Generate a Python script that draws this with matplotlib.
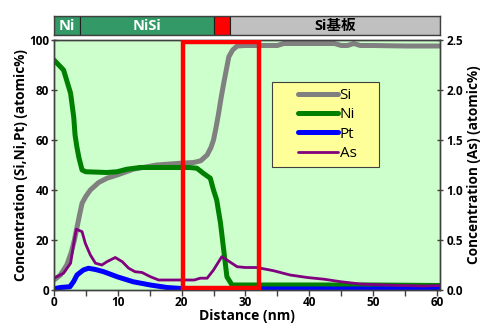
import matplotlib
matplotlib.use("Agg")
import matplotlib.pyplot as plt
from matplotlib.patches import Rectangle

plt.rcParams['font.family'] = ['Open Sans', 'Noto Sans CJK JP', 'DejaVu Sans']

# ---- data ----
si_x = [0, 1, 2, 2.7, 3.2, 3.6, 4.0, 4.4, 5.0, 5.7, 7, 8.3, 9.9, 12.4, 16.1, 19.8, 21.9, 23, 24,
        24.6, 25, 25.4, 25.8, 26.2, 26.6, 27, 27.4, 28, 28.7, 30, 35, 36, 44, 45, 46, 47, 48, 50, 55, 60.5]
si_y = [4, 6, 10, 15, 20, 25, 30, 34.7, 37.5, 40, 43, 44.7, 46, 48.3, 50, 50.7, 51, 51.7, 54,
        57, 60, 65, 70.7, 77, 82.7, 88, 93.3, 96, 97.6, 97.8, 97.8, 98.6, 98.6, 97.8, 97.8, 98.6, 97.8, 97.8, 97.6, 97.6]

ni_x = [0, 1.5, 2.6, 3.1, 3.3, 3.6, 3.9, 4.4, 5, 8.3, 9.9, 11.4, 13.5, 18.7, 21.3, 22.4, 23.4,
        24.5, 25, 25.5, 26.1, 26.6, 27.1, 27.9, 30, 40, 50, 60.5]
ni_y = [92, 88, 78.7, 69, 62, 57, 53, 48, 47.3, 47, 47.3, 48.3, 49, 49, 49, 48.7, 46.7,
        44.7, 40, 36, 26.7, 16, 5.3, 2, 2, 2, 2, 1.8]

pt_x = [0, 1, 2.5, 3.1, 3.6, 4.6, 5.4, 6.5, 7.8, 9.9, 12.4, 15.1, 17.7, 20, 25, 30, 40, 50, 60.5]
pt_y = [0.5, 1, 1.3, 3.5, 6, 8, 8.7, 8.2, 7.3, 5.3, 3.3, 2, 1, 0.6, 0.5, 0.4, 0.4, 0.4, 0.5]

as_x = [0, 1.5, 2.6, 3.1, 3.5, 4.4, 4.9, 5.7, 6.5, 7.5, 8.3, 9.6, 10.7, 11.7, 12.7, 13.8, 15.1,
        16.4, 19, 22, 22.9, 24, 25, 26.3, 27.1, 28.7, 30, 31.8, 34.4, 37, 39.7, 42.3, 44.9, 48,
        52.7, 57.9, 60.5]
as_y = [0.118, 0.168, 0.268, 0.468, 0.608, 0.583, 0.468, 0.35, 0.268, 0.25, 0.283, 0.325, 0.283,
        0.218, 0.183, 0.175, 0.133, 0.1, 0.1, 0.1, 0.118, 0.118, 0.2, 0.333, 0.3, 0.233, 0.225,
        0.225, 0.193, 0.15, 0.125, 0.108, 0.083, 0.06, 0.048, 0.04, 0.045]

layer_names = ['Ni', 'NiSi', '', 'Si基板']
layer_bounds = [0, 4.1, 25.1, 27.6, 60.5]
layer_colors = ['#339966', '#339966', '#ff0000', '#c0c0c0']
layer_text_colors = ['white', 'white', 'white', 'black']

highlight_x = (20.2, 32.1)
highlight_y = (1, 99)

x_ticks = [0, 10, 20, 30, 40, 50, 60]
left_ticks = [0, 20, 40, 60, 80, 100]
right_ticks = [0.0, 0.5, 1.0, 1.5, 2.0, 2.5]

# ---- figure ----
fig = plt.figure(figsize=(4.93, 3.30), dpi=100)
L, R, B, T = 54 / 493, 440 / 493, 1 - 290 / 330, 1 - 40 / 330
ax = fig.add_axes([L, B, R - L, T - B])
ax.set_facecolor('#ccffcc')
ax2 = ax.twinx()

edge = '#404040'
lsi, = ax.plot(si_x, si_y, color='#808080', lw=3.6, label='Si', solid_capstyle='round')
lni, = ax.plot(ni_x, ni_y, color='#008000', lw=3.6, label='Ni', solid_capstyle='round')
lpt, = ax.plot(pt_x, pt_y, color='#0000ff', lw=3.6, label='Pt', solid_capstyle='round')
las, = ax2.plot(as_x, as_y, color='#800080', lw=2.0, label='As', solid_capstyle='round')

ax.set_xlim(0, 60.5)
ax.set_ylim(0, 100)
ax2.set_ylim(0, 2.5)

rect = Rectangle((highlight_x[0], highlight_y[0] / 40), highlight_x[1] - highlight_x[0],
                 (highlight_y[1] - highlight_y[0]) / 40, fill=False, edgecolor='#ff0000', lw=3.2, zorder=10)
ax2.add_patch(rect)

ax.set_xticks(x_ticks)
ax.set_xticks([5, 15, 25, 35, 45, 55], minor=True)
ax.set_yticks(left_ticks)
ax2.set_yticks(right_ticks)
ax2.set_yticklabels([f'{v:.1f}' for v in right_ticks])

ax.tick_params(axis='x', direction='out', length=4, width=1, colors=edge, labelcolor='black', labelsize=8.5, pad=0)
ax.tick_params(axis='x', which='minor', direction='out', length=4, width=1, colors=edge)
ax.tick_params(axis='y', direction='inout', length=5, width=1, colors=edge, labelcolor='black', labelsize=8.5, pad=1)
ax2.tick_params(axis='y', direction='inout', length=5, width=1, colors=edge, labelcolor='black', labelsize=8.5, pad=2)
for a in (ax, ax2):
    for lab in a.get_xticklabels() + a.get_yticklabels():
        lab.set_fontweight('bold')
    for s in a.spines.values():
        s.set_color(edge)
        s.set_linewidth(1)

ax.set_xlabel('Distance (nm)', fontsize=10, fontweight='bold', labelpad=0)
ax.set_ylabel('Concentration (Si,Ni,Pt) (atomic%)', fontsize=9.8, fontweight='bold', labelpad=1)
ax2.set_ylabel('Concentration (As) (atomic%)', fontsize=9.8, fontweight='bold', labelpad=3)

# legend frame drawn as a box, entries centred inside it
lx0, lx1, ly0, ly1 = 0.565, 0.842, 0.492, 0.832
ax2.add_patch(Rectangle((lx0, ly0), lx1 - lx0, ly1 - ly0, transform=ax2.transAxes,
                        facecolor='#ffff99', edgecolor=edge, lw=0.8, zorder=8))
leg = ax2.legend(handles=[lsi, lni, lpt, las], loc='center',
                 bbox_to_anchor=((lx0 + lx1) / 2 + 0.005, (ly0 + ly1) / 2),
                 fontsize=11, frameon=False, handlelength=2.6, handletextpad=0.1,
                 labelspacing=0.28, borderpad=0.0, borderaxespad=0)
leg.set_zorder(9)

# ---- top layer bar ----
bax = fig.add_axes([L, 1 - 35 / 330, R - L, 19 / 330])
bax.set_xlim(0, 60.5)
bax.set_ylim(0, 1)
for i, name in enumerate(layer_names):
    x0, x1 = layer_bounds[i], layer_bounds[i + 1]
    bax.add_patch(Rectangle((x0, 0), x1 - x0, 1, facecolor=layer_colors[i], edgecolor='#202020', lw=0.8))
    if name:
        bax.text((x0 + x1) / 2, 0.5, name, ha='center', va='center', color=layer_text_colors[i],
                 fontsize=10.5, fontweight='bold')
bax.set_xticks([])
bax.set_yticks([])
for s in bax.spines.values():
    s.set_color(edge)
    s.set_linewidth(1)

fig.savefig('out.png', dpi=100)
